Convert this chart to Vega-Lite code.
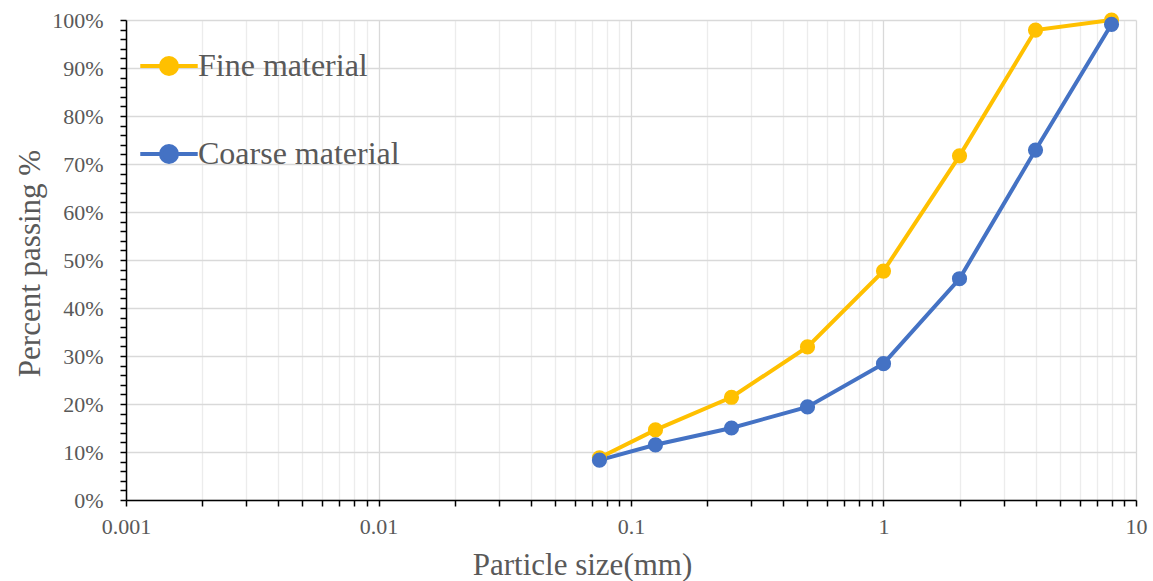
{
  "$schema": "https://vega.github.io/schema/vega-lite/v6.json",
  "width": 1010,
  "height": 480,
  "autosize": "none",
  "padding": {"left": 126, "top": 20, "right": 17, "bottom": 81},
  "background": "white",
  "config": {
    "font": "Liberation Serif",
    "view": {"stroke": null},
    "axis": {"labelFont": "Liberation Serif", "titleFont": "Liberation Serif", "labelColor": "#595959", "titleColor": "#595959", "titleFontWeight": "normal"}
  },
  "data": {
    "values": [
      {"series": "Fine material", "size": 0.075, "passing": 0.088},
      {"series": "Fine material", "size": 0.125, "passing": 0.146},
      {"series": "Fine material", "size": 0.25, "passing": 0.214},
      {"series": "Fine material", "size": 0.5, "passing": 0.319},
      {"series": "Fine material", "size": 1, "passing": 0.477},
      {"series": "Fine material", "size": 2, "passing": 0.717},
      {"series": "Fine material", "size": 4, "passing": 0.979},
      {"series": "Fine material", "size": 8, "passing": 1.0},
      {"series": "Coarse material", "size": 0.075, "passing": 0.083},
      {"series": "Coarse material", "size": 0.125, "passing": 0.115},
      {"series": "Coarse material", "size": 0.25, "passing": 0.15},
      {"series": "Coarse material", "size": 0.5, "passing": 0.194},
      {"series": "Coarse material", "size": 1, "passing": 0.284},
      {"series": "Coarse material", "size": 2, "passing": 0.461},
      {"series": "Coarse material", "size": 4, "passing": 0.729},
      {"series": "Coarse material", "size": 8, "passing": 0.991}
    ]
  },
  "mark": {"type": "line", "strokeWidth": 4, "point": {"size": 230, "filled": true, "opacity": 1}},
  "encoding": {
    "x": {
      "field": "size", "type": "quantitative",
      "scale": {"type": "log", "domain": [0.001, 10], "nice": false},
      "axis": {
        "title": "Particle size(mm)",
        "titleFontSize": 31,
        "titleX": 456,
        "titleY": 65,
        "titleBaseline": "middle",
        "titleAnchor": "middle",
        "titleAlign": "center",
        "values": [0.001,0.002,0.003,0.004,0.005,0.006,0.007,0.008,0.009,0.01,0.02,0.03,0.04,0.05,0.06,0.07,0.08,0.09,0.1,0.2,0.3,0.4,0.5,0.6,0.7,0.8,0.9,1,2,3,4,5,6,7,8,9,10],
        "labelExpr": "indexof([0.001,0.01,0.1,1,10], datum.value) >= 0 ? toString(datum.value) : ''",
        "labelOverlap": false,
        "labelFontSize": 22,
        "labelPadding": 10,
        "labelFlush": false,
        "domainColor": "#000000",
        "domainWidth": 1.5,
        "tickColor": "#000000",
        "tickWidth": 1.5,
        "tickSize": 6,
        "grid": true,
        "gridColor": {"condition": {"test": "indexof([0.001,0.01,0.1,1,10], datum.value) >= 0", "value": "#d9d9d9"}, "value": "#ececec"},
        "gridWidth": 1.3
      }
    },
    "y": {
      "field": "passing", "type": "quantitative",
      "scale": {"domain": [0, 1], "nice": false},
      "axis": {
        "title": "Percent passing %",
        "titleFontSize": 31,
        "titleX": -96,
        "titleY": 243,
        "titleBaseline": "middle",
        "titleAngle": -90,
        "titleAnchor": "middle",
        "values": [0,0.02,0.04,0.06,0.08,0.1,0.12,0.14,0.16,0.18,0.2,0.22,0.24,0.26,0.28,0.3,0.32,0.34,0.36,0.38,0.4,0.42,0.44,0.46,0.48,0.5,0.52,0.54,0.56,0.58,0.6,0.62,0.64,0.66,0.68,0.7,0.72,0.74,0.76,0.78,0.8,0.82,0.84,0.86,0.88,0.9,0.92,0.94,0.96,0.98,1],
        "labelExpr": "round(datum.value*100) % 10 == 0 ? format(datum.value, '.0%') : ''",
        "labelOverlap": false,
        "labelFontSize": 22,
        "labelPadding": 17,
        "labelFlush": false,
        "domainColor": "#000000",
        "domainWidth": 1.5,
        "tickColor": "#000000",
        "tickWidth": 1.5,
        "tickSize": 6,
        "grid": true,
        "gridColor": "#d9d9d9",
        "gridWidth": 1.3,
        "gridOpacity": {"condition": {"test": "round(datum.value*100) % 10 == 0", "value": 1}, "value": 0}
      }
    },
    "color": {
      "field": "series", "type": "nominal",
      "scale": {"domain": ["Fine material", "Coarse material"], "range": ["#FFC000", "#4472C4"]},
      "legend": {
        "title": null,
        "orient": "none",
        "legendX": 12,
        "legendY": 15,
        "symbolType": "M -1 0 L 1 0 M -0.28 0 A 0.28 0.28 0 1 1 0.28 0 A 0.28 0.28 0 1 1 -0.28 0 Z",
        "symbolSize": 3300,
        "symbolStrokeWidth": 4,
        "symbolOpacity": 1,
        "labelFont": "Liberation Serif",
        "labelFontSize": 32,
        "labelColor": "#595959",
        "labelOffset": -2,
        "rowPadding": 40,
        "labelLimit": 400
      }
    }
  }
}
